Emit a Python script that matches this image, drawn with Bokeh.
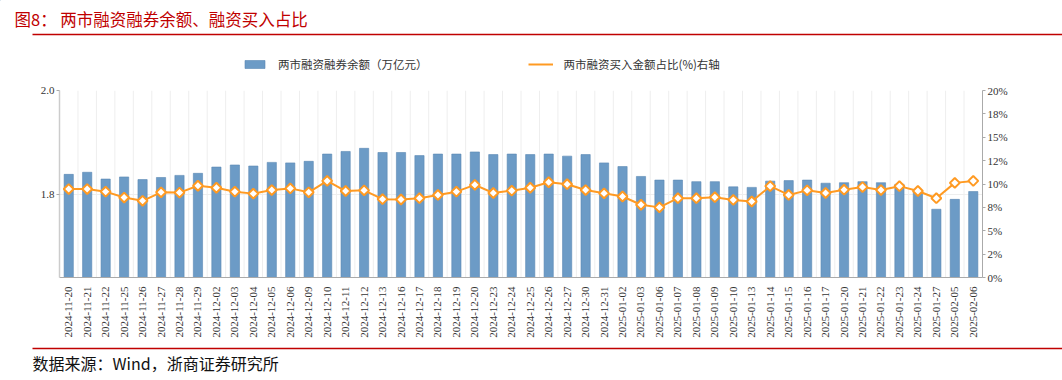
import math
from bokeh.plotting import figure
from bokeh.models import (Range1d, FactorRange, LinearAxis, FixedTicker, Legend,
                          LegendItem, Span, ColumnDataSource)
from bokeh.layouts import column
from bokeh.core.properties import value
from bokeh.embed import file_html
from bokeh.resources import INLINE

# ---------------- data ----------------
dates = ["2024-11-20", "2024-11-21", "2024-11-22", "2024-11-25", "2024-11-26",
         "2024-11-27", "2024-11-28", "2024-11-29", "2024-12-02", "2024-12-03",
         "2024-12-04", "2024-12-05", "2024-12-06", "2024-12-09", "2024-12-10",
         "2024-12-11", "2024-12-12", "2024-12-13", "2024-12-16", "2024-12-17",
         "2024-12-18", "2024-12-19", "2024-12-20", "2024-12-23", "2024-12-24",
         "2024-12-25", "2024-12-26", "2024-12-27", "2024-12-30", "2024-12-31",
         "2025-01-02", "2025-01-03", "2025-01-06", "2025-01-07", "2025-01-08",
         "2025-01-09", "2025-01-10", "2025-01-13", "2025-01-14", "2025-01-15",
         "2025-01-16", "2025-01-17", "2025-01-20", "2025-01-21", "2025-01-22",
         "2025-01-23", "2025-01-24", "2025-01-27", "2025-02-05", "2025-02-06"]

balance = [1.839, 1.843, 1.830, 1.834, 1.829, 1.833, 1.837, 1.841, 1.853, 1.857,
           1.855, 1.862, 1.861, 1.864, 1.878, 1.883, 1.889, 1.881, 1.881, 1.875,
           1.878, 1.878, 1.882, 1.877, 1.878, 1.877, 1.878, 1.874, 1.877, 1.861,
           1.854, 1.835, 1.828, 1.828, 1.825, 1.825, 1.815, 1.814, 1.826, 1.827,
           1.828, 1.822, 1.823, 1.825, 1.823, 1.820, 1.806, 1.772, 1.791, 1.806]

ratio = [9.46, 9.46, 9.18, 8.55, 8.20, 9.11, 9.08, 9.81, 9.60, 9.18,
         8.97, 9.35, 9.53, 9.11, 10.33, 9.25, 9.32, 8.38, 8.34, 8.48,
         8.83, 9.18, 9.91, 9.04, 9.29, 9.60, 10.19, 9.98, 9.35, 9.00,
         8.66, 7.78, 7.50, 8.48, 8.48, 8.59, 8.30, 8.13, 9.77, 8.83,
         9.32, 9.04, 9.39, 9.67, 9.35, 9.77, 9.25, 8.48, 10.12, 10.33]

left_ticks = [1.8, 2.0]
left_labels = ["1.8", "2.0"]
right_ticks = [0, 2.5, 5, 7.5, 10, 12.5, 15, 17.5, 20]
right_labels = ["0%", "2%", "5%", "8%", "10%", "12%", "15%", "18%", "20%"]

title_text = "图8：  两市融资融券余额、融资买入占比"
source_text = "数据来源：Wind，浙商证券研究所"
bar_label = "两市融资融券余额（万亿元）"
line_label = "两市融资买入金额占比(%)右轴"

RED = "#C00000"
BAR = "#6C9BC6"
BAR_EDGE = "#5B88B3"
ORANGE = "#FF9A22"
CJK = "Noto Sans CJK SC"
SERIF = "Liberation Serif"
W = 1062


def blank(h, y0, y1):
    f = figure(width=W, height=h, x_range=Range1d(0, W), y_range=Range1d(y1, y0),
               output_backend="svg", toolbar_location=None,
               x_axis_location=None, y_axis_location=None, min_border=0)
    f.frame_align = False
    f.outline_line_color = None
    f.xgrid.visible = False
    f.ygrid.visible = False
    return f


# ---------------- header (title + legend) ----------------
head = blank(80, 0, 80)
head.text(x=[14], y=[18.5], text=[title_text], text_font=value(CJK),
          text_font_size="16.5px", text_color=RED, text_baseline="middle")
head.segment(x0=[32], y0=[34], x1=[W], y1=[34], line_color=RED, line_width=1.5)

# legend swatch renderers, styled like the chart's series (kept outside the visible area)
lg_bar = head.vbar(x=[-50], top=[-50], bottom=[-60], width=1, fill_color=BAR,
                   line_color=BAR_EDGE, line_width=0.6)
lg_line = head.line(x=[-60, -50], y=[-50, -50], line_color=ORANGE, line_width=2)
legend = Legend(items=[LegendItem(label=bar_label, renderers=[lg_bar]),
                       LegendItem(label=line_label, renderers=[lg_line])],
                orientation="horizontal", location=(242, 8),
                label_text_font=CJK, label_text_font_size="11.5px",
                label_text_color="#333333", glyph_width=25, glyph_height=10,
                label_standoff=11, spacing=100, padding=0, margin=0,
                border_line_color=None, background_fill_alpha=0)
head.add_layout(legend)

# ---------------- main chart ----------------
src = ColumnDataSource(dict(d=dates, b=balance, r=ratio))

p = figure(width=W, height=260, x_range=FactorRange(factors=dates, range_padding=0),
           y_range=Range1d(1.641, 2.0), output_backend="svg", toolbar_location=None,
           min_border_left=59, min_border_right=80, min_border_top=10, min_border_bottom=59)
p.frame_align = False
p.extra_y_ranges = {"pct": Range1d(0, 20)}
p.outline_line_color = None

bars = p.vbar(x="d", top="b", width=0.5, source=src, fill_color=BAR,
              line_color=BAR_EDGE, line_width=0.6)
ln = p.line(x="d", y="r", source=src, y_range_name="pct", line_color=ORANGE, line_width=2)
p.scatter(x="d", y="r", source=src, y_range_name="pct", marker="square", angle=math.pi / 4,
          size=7, fill_color="white", line_color=ORANGE, line_width=2)

for i in range(1, len(dates)):
    p.add_layout(Span(location=i, dimension="height", line_color="#EEEEEE", line_width=1,
                      level="underlay"))

p.xgrid.visible = False
p.ygrid.ticker = FixedTicker(ticks=left_ticks)
p.ygrid.grid_line_color = "#EEEEEE"

xa = p.xaxis[0]
xa.major_label_orientation = math.pi / 2
xa.major_label_text_font = SERIF
xa.major_label_text_font_size = "11px"
xa.major_label_text_color = "#333333"
xa.axis_line_color = "#AAAAAA"
xa.major_tick_line_color = None
xa.minor_tick_line_color = None
xa.major_label_standoff = 3

ya = p.yaxis[0]
ya.ticker = FixedTicker(ticks=left_ticks)
ya.major_label_overrides = dict(zip(left_ticks, left_labels))
ya.major_label_text_font = SERIF
ya.major_label_text_font_size = "11px"
ya.major_label_text_color = "#333333"
ya.axis_line_color = "#CCCCCC"
ya.axis_line_width = 1.5
ya.major_tick_out = 3
ya.major_tick_in = 0
ya.major_tick_line_color = "#AAAAAA"
ya.minor_tick_line_color = None
ya.major_label_standoff = 2

ra = LinearAxis(y_range_name="pct", ticker=FixedTicker(ticks=right_ticks))
ra.major_label_overrides = dict(zip(right_ticks, right_labels))
ra.major_label_text_font = SERIF
ra.major_label_text_font_size = "11px"
ra.major_label_text_color = "#333333"
ra.axis_line_color = "#AAAAAA"
ra.major_tick_out = 3
ra.major_tick_in = 0
ra.major_tick_line_color = "#AAAAAA"
ra.minor_tick_line_color = None
ra.major_label_standoff = 2
p.add_layout(ra, "right")

# ---------------- footer ----------------
foot = blank(40, 340, 380)
foot.segment(x0=[32], y0=[348], x1=[W], y1=[348], line_color=RED, line_width=1.5)
foot.text(x=[32], y=[362], text=[source_text], text_font=value(CJK),
          text_font_size="16px", text_color="#111111", text_baseline="middle")

layout = column(head, p, foot, spacing=0)
open("out.html", "w").write(file_html(layout, INLINE))
